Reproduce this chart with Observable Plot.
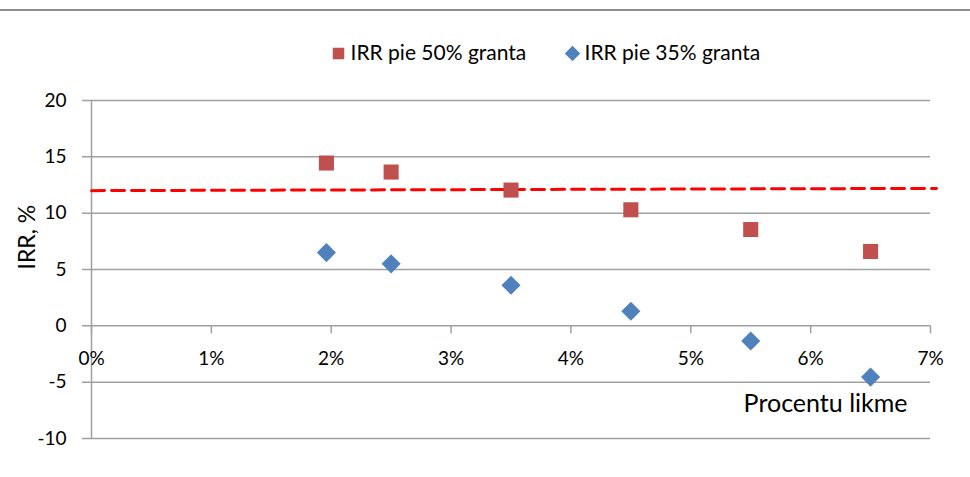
<!DOCTYPE html>
<html>
<head>
<meta charset="utf-8">
<script src="https://cdn.jsdelivr.net/npm/d3@7"></script>
<script src="https://cdn.jsdelivr.net/npm/@observablehq/plot@0.6"></script>
<style>
  html, body { margin: 0; padding: 0; background: #fff; }
  #wrap { position: relative; width: 970px; height: 477px; }
  #topline { position: absolute; left: 0; top: 9px; width: 970px; border-top: 2px solid #8c8c8c; }
  svg { font-family: Lato, "Open Sans", sans-serif; }
</style>
</head>
<body>
<div id="wrap"><div id="topline"></div></div>
<script>
const rates = [1.96, 2.5, 3.5, 4.5, 5.5, 6.5];
const irr50 = [14.45, 13.65, 12.05, 10.3, 8.55, 6.6];
const irr35 = [6.5, 5.5, 3.6, 1.3, -1.35, -4.55];
const benchmarkX = [0, 7.05];
const benchmarkY = [12.0, 12.2];
const xTicks = [0, 1, 2, 3, 4, 5, 6, 7];
const yTicks = [-10, -5, 0, 5, 10, 15, 20];
const seriesNames = ["IRR pie 50% granta", "IRR pie 35% granta"];
const xTitle = "Procentu likme";
const yTitle = "IRR, %";

const red = "#C0504D", blue = "#4F81BD", grid = "#a0a0a0";

const s50 = rates.map((x, i) => ({x, y: irr50[i]}));
const s35 = rates.map((x, i) => ({x, y: irr35[i]}));
const bench = benchmarkX.map((x, i) => ({x, y: benchmarkY[i]}));

const chart = Plot.plot({
  width: 970,
  height: 477,
  marginLeft: 91,
  marginRight: 40,
  marginTop: 100,
  marginBottom: 39,
  x: {domain: [0, 7], axis: null},
  y: {domain: [-10, 20], axis: null},
  style: {fontFamily: "Lato, 'Open Sans', sans-serif", fontSize: "19px", color: "#000", background: "#fff", overflow: "visible"},
  marks: [
    Plot.ruleY(yTicks, {y: d => d, x1: 0, x2: 7, insetLeft: -9, stroke: grid, strokeWidth: 1.5}),
    Plot.ruleX([0], {x: d => d, y1: -10, y2: 20, stroke: grid, strokeWidth: 1.5}),
    Plot.ruleX(xTicks, {x: d => d, y1: 0, y2: 0, insetBottom: -8, stroke: grid, strokeWidth: 1.5}),
    Plot.axisY({ticks: yTicks, tickSize: 0, tickPadding: 25, label: null, fontSize: 19, tickFormat: d => d}),
    Plot.text(xTicks, {x: d => d, y: 0, text: d => d + "%", dy: 33, fontSize: 19, fill: "#000"}),
    Plot.text([yTitle], {frameAnchor: "left", lineAnchor: "middle", rotate: -90, dx: -64, dy: 0, fontSize: 23, fill: "#000"}),
    Plot.text([xTitle], {frameAnchor: "bottom-right", lineAnchor: "middle", textAnchor: "end", dx: -23, dy: -35, fontSize: 25, fill: "#000"}),
    Plot.line(bench, {x: "x", y: "y", stroke: "#ff0000", strokeWidth: 3, strokeDasharray: "13,7"}),
    Plot.dot(s50, {x: "x", y: "y", symbol: "square", r: 8.5, fill: red, stroke: "none"}),
    Plot.dot(s35, {x: "x", y: "y", symbol: "diamond2", r: 8.6, fill: blue, stroke: "none"}),
    // legend
    Plot.dot([seriesNames[0]], {frameAnchor: "top-left", dx: 247, dy: -47, symbol: "square", r: 6.5, fill: red}),
    Plot.text([seriesNames[0]], {frameAnchor: "top-left", lineAnchor: "middle", dx: 259, dy: -47, textAnchor: "start", fontSize: 21, fill: "#000"}),
    Plot.dot([seriesNames[1]], {frameAnchor: "top-left", dx: 481, dy: -47, symbol: "diamond2", r: 7, fill: blue}),
    Plot.text([seriesNames[1]], {frameAnchor: "top-left", lineAnchor: "middle", dx: 493, dy: -47, textAnchor: "start", fontSize: 21, fill: "#000"})
  ]
});
document.getElementById("wrap").appendChild(chart);
chart.style.position = "absolute";
chart.style.left = "0";
chart.style.top = "0";
document.getElementById("wrap").appendChild(document.getElementById("topline"));
</script>
</body>
</html>
